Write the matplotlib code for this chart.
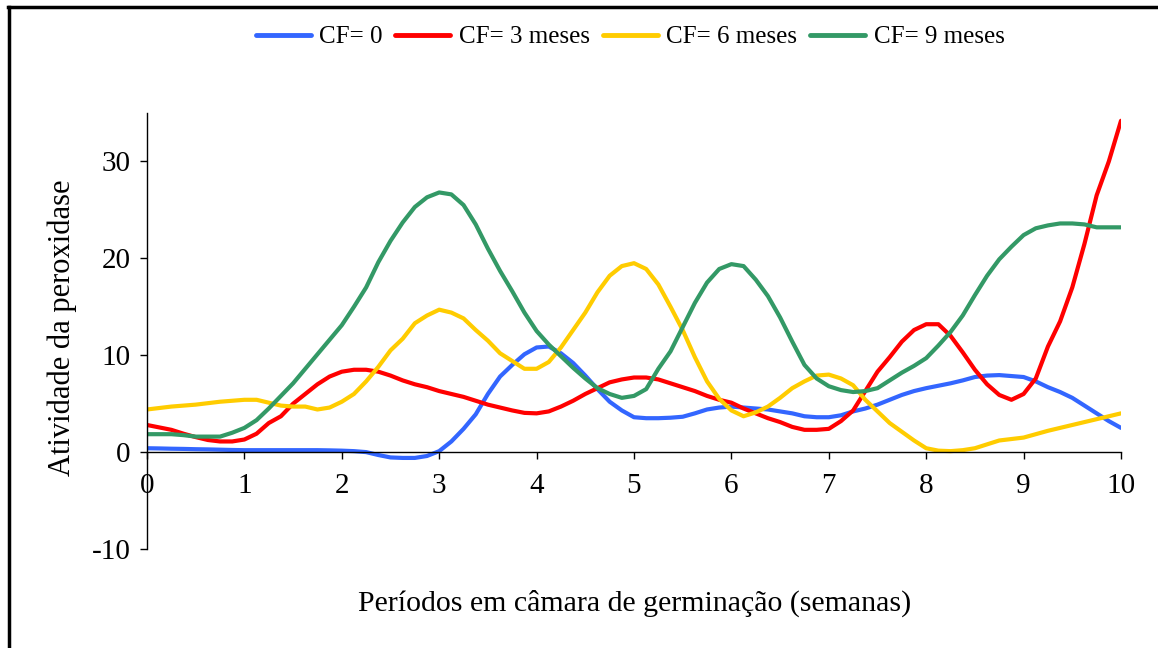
import matplotlib
matplotlib.use("Agg")
import matplotlib.pyplot as plt
from matplotlib.lines import Line2D

plt.rcParams['font.family'] = ['Liberation Serif', 'DejaVu Serif']
plt.rcParams['axes.unicode_minus'] = False

semanas = [i * 0.125 for i in range(81)]

cf0 = [0.4, 0.38, 0.35, 0.33, 0.3, 0.28, 0.25, 0.22,
       0.2, 0.2, 0.2, 0.2, 0.2, 0.2, 0.2, 0.18,
       0.15, 0.1, 0.0, -0.3, -0.55, -0.6, -0.6, -0.4,
       0.1, 1.1, 2.4, 3.9, 6.0, 7.8, 9.0, 10.1,
       10.8, 10.9, 10.2, 9.2, 7.9, 6.5, 5.2, 4.3,
       3.6, 3.5, 3.5, 3.55, 3.65, 4.0, 4.4, 4.6,
       4.7, 4.6, 4.5, 4.4, 4.2, 4.0, 3.7, 3.6,
       3.6, 3.8, 4.2, 4.5, 4.9, 5.4, 5.9, 6.3,
       6.6, 6.85, 7.1, 7.4, 7.75, 7.9, 7.95, 7.85,
       7.75, 7.3, 6.7, 6.2, 5.6, 4.8, 4.0, 3.2,
       2.5]

cf3 = [2.8, 2.55, 2.3, 1.9, 1.55, 1.25, 1.1, 1.1,
       1.3, 1.9, 3.0, 3.7, 5.0, 6.0, 7.0, 7.8,
       8.3, 8.5, 8.5, 8.3, 7.9, 7.4, 7.0, 6.7,
       6.3, 6.0, 5.7, 5.3, 4.9, 4.6, 4.3, 4.05,
       4.0, 4.2, 4.7, 5.3, 6.0, 6.6, 7.2, 7.5,
       7.7, 7.7, 7.5, 7.1, 6.7, 6.3, 5.8, 5.4,
       5.1, 4.5, 4.0, 3.5, 3.1, 2.6, 2.3, 2.3,
       2.4, 3.2, 4.3, 6.3, 8.3, 9.8, 11.4, 12.6,
       13.2, 13.2, 12.0, 10.3, 8.5, 7.0, 5.9, 5.4,
       6.0, 7.6, 10.9, 13.5, 17.0, 21.5, 26.5, 30.0,
       34.2]

cf6 = [4.4, 4.55, 4.7, 4.8, 4.9, 5.05, 5.2, 5.3,
       5.4, 5.4, 5.1, 4.8, 4.7, 4.7, 4.4, 4.6,
       5.2, 6.0, 7.3, 8.8, 10.5, 11.7, 13.3, 14.1,
       14.7, 14.4, 13.8, 12.6, 11.5, 10.2, 9.4, 8.6,
       8.6, 9.3, 10.8, 12.6, 14.4, 16.5, 18.2, 19.2,
       19.5, 18.9, 17.3, 15.0, 12.6, 9.8, 7.3, 5.5,
       4.3, 3.7, 4.1, 4.7, 5.6, 6.6, 7.3, 7.9,
       8.0, 7.6, 6.9, 5.4, 4.2, 3.0, 2.1, 1.2,
       0.4, 0.15, 0.1, 0.2, 0.4, 0.8, 1.2, 1.35,
       1.5, 1.85, 2.2, 2.5, 2.8, 3.1, 3.4, 3.7,
       4.0]

cf9 = [1.85, 1.85, 1.85, 1.75, 1.6, 1.6, 1.6, 2.0,
       2.5, 3.3, 4.5, 5.8, 7.1, 8.6, 10.1, 11.6,
       13.1, 15.0, 17.0, 19.6, 21.8, 23.7, 25.3, 26.3,
       26.8, 26.6, 25.5, 23.5, 21.0, 18.7, 16.6, 14.4,
       12.5, 11.1, 9.9, 8.7, 7.6, 6.6, 6.0, 5.6,
       5.8, 6.5, 8.6, 10.4, 12.9, 15.4, 17.5, 18.9,
       19.4, 19.2, 17.8, 16.1, 13.9, 11.4, 9.0, 7.6,
       6.8, 6.4, 6.2, 6.3, 6.6, 7.4, 8.2, 8.9,
       9.7, 11.0, 12.4, 14.1, 16.2, 18.2, 19.9, 21.2,
       22.4, 23.1, 23.4, 23.6, 23.6, 23.5, 23.2, 23.2,
       23.2]

series_labels = ['CF= 0', 'CF= 3 meses', 'CF= 6 meses', 'CF= 9 meses']
series_colors = ['#3366FF', '#FF0000', '#FFCC00', '#339966']
x_ticks = [0, 1, 2, 3, 4, 5, 6, 7, 8, 9, 10]
y_ticks = [-10, 0, 10, 20, 30]

W, H = 1158, 648
fig = plt.figure(figsize=(W / 100, H / 100), dpi=100)
ax = fig.add_axes([147 / W, 1 - 549 / H, (1121 - 147) / W, (549 - 113) / H])

for ys, lab, col in zip([cf0, cf3, cf6, cf9], series_labels, series_colors):
    ax.plot(semanas, ys, color=col, lw=3.0, label=lab,
            solid_joinstyle='round', solid_capstyle='round')

ax.set_xlim(0, 10)
ax.set_ylim(-10, 35)
ax.set_xticks(x_ticks)
ax.set_yticks(y_ticks)
ax.spines['top'].set_visible(False)
ax.spines['right'].set_visible(False)
ax.spines['bottom'].set_position(('data', 0))
ax.spines['bottom'].set_linewidth(1.0)
ax.spines['left'].set_linewidth(1.0)
ax.tick_params(axis='both', direction='out', length=5, width=1, labelsize=21)
ax.tick_params(axis='y', pad=7)
ax.tick_params(axis='x', pad=10)

fig.text(635 / W, 1 - 603 / H, 'Períodos em câmara de germinação (semanas)',
         ha='center', va='center', fontsize=21.5)
fig.text(62 / W, 1 - 328 / H, 'Atividade da peroxidase', rotation=90,
         ha='center', va='center', fontsize=22)

leg = fig.legend(loc='center', bbox_to_anchor=(630 / W, 1 - 37 / H), ncol=4,
                 frameon=False, fontsize=18, handlelength=2.2,
                 handletextpad=0.35, columnspacing=0.5, borderaxespad=0)
for h in leg.get_lines():
    h.set_linewidth(3.5)

# figure frame (top and left edges visible)
fig.add_artist(Line2D([8 / W, 1.0], [1 - 7 / H, 1 - 7 / H], color='black', lw=2.5,
                      transform=fig.transFigure))
fig.add_artist(Line2D([9 / W, 9 / W], [0.0, 1 - 7 / H], color='black', lw=2.5,
                      transform=fig.transFigure))

fig.savefig('out.png', dpi=100)
